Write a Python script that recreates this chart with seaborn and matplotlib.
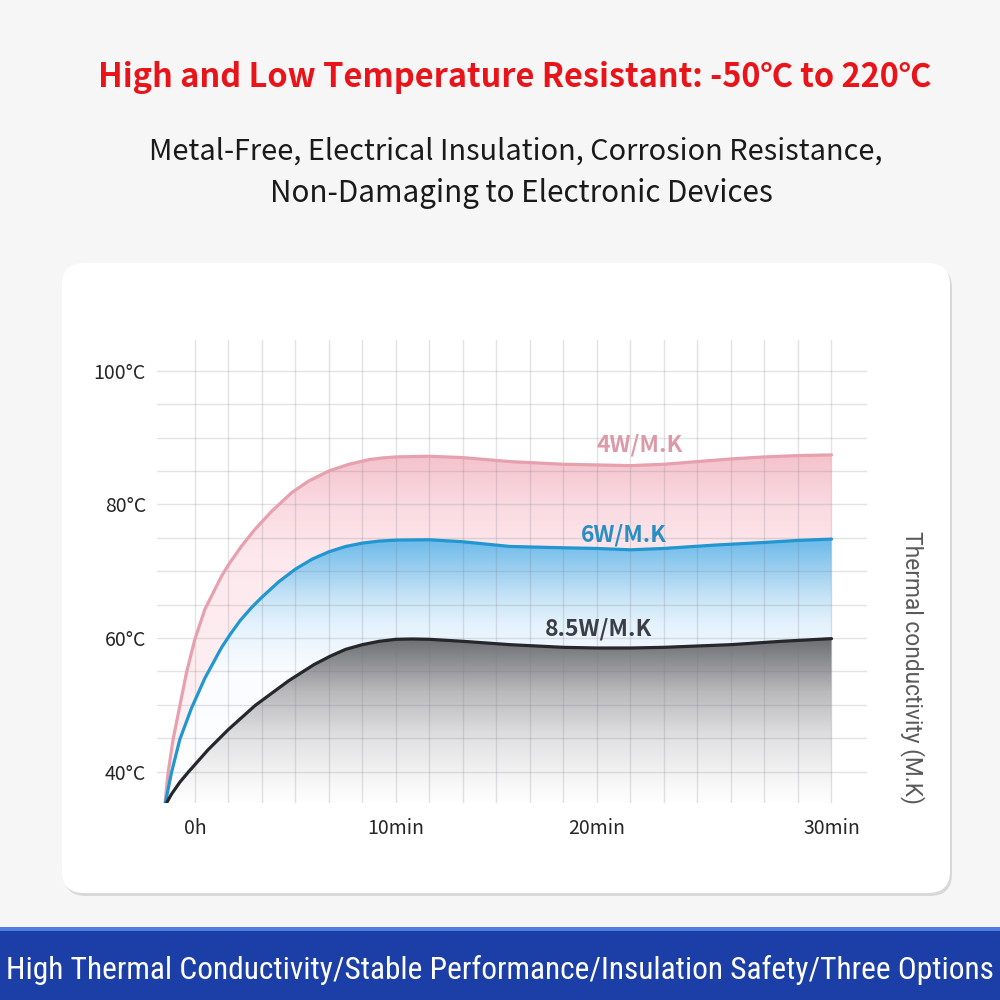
import numpy as np
import pandas as pd
import matplotlib
matplotlib.use("Agg")
import matplotlib.pyplot as plt
import seaborn as sns
from matplotlib.patches import FancyBboxPatch, Rectangle
from matplotlib.ticker import FixedLocator

# ---------------- data ----------------
# x is in grid steps (6 steps = 10 min on the printed axis)
tick_steps = [0, 6, 12, 19]
tick_labels = ["0h", "10min", "20min", "30min"]
ytick_vals = [40, 60, 80, 100]
ytick_labels = ["40°C", "60°C", "80°C", "100°C"]

x_4w = [-0.9, -0.8, -0.65, -0.45, -0.25, 0.0, 0.3, 0.8, 1.05, 1.4, 1.8, 2.3, 2.9, 3.4, 4.0,
        4.6, 5.2, 5.6, 6, 7, 8, 9.4, 11, 12, 13, 14, 15, 16, 17, 18, 19]
y_4w = [34.8, 39.8, 44.8, 49.8, 54.8, 59.8, 64.3, 69.3, 71.3, 73.8, 76.3, 79.0, 81.8, 83.5, 85.0,
        86.0, 86.7, 86.95, 87.1, 87.2, 87.0, 86.4, 86.0, 85.9, 85.8, 86.0, 86.4, 86.8, 87.1, 87.3, 87.4]

x_6w = [-0.9, -0.7, -0.45, -0.1, 0.3, 0.8, 1.05, 1.35, 1.7, 2.0, 2.5, 3.0, 3.5, 4.0, 4.5, 5.0,
        5.5, 6, 7, 8, 9.4, 11, 12, 13, 14, 15.5, 17, 18, 19]
y_6w = [34.8, 39.8, 44.8, 49.5, 54.0, 58.6, 60.5, 62.6, 64.6, 66.1, 68.4, 70.3, 71.8, 72.9, 73.7, 74.2,
        74.5, 74.65, 74.7, 74.4, 73.7, 73.5, 73.4, 73.2, 73.4, 73.9, 74.3, 74.6, 74.8]

x_85w = [-0.9, -0.7, -0.45, -0.2, 0.4, 1.0, 1.8, 2.8, 3.55, 4.05, 4.5, 5, 5.5, 6, 6.5, 7, 8, 9.4,
         11, 12, 13, 14, 16, 17.5, 19]
y_85w = [34.8, 36.6, 38.4, 39.9, 43.3, 46.3, 49.9, 53.6, 56.0, 57.3, 58.3, 59.0, 59.5, 59.8, 59.85, 59.8, 59.5, 59.0,
         58.6, 58.5, 58.5, 58.6, 59.0, 59.5, 59.9]

series_names = ["4W/M.K", "6W/M.K", "8.5W/M.K"]
label_pos_x = [13.27, 12.8, 12.05]
label_pos_y = [88.9, 75.4, 61.4]

title = "High and Low Temperature Resistant: -50℃ to 220℃"
subtitle1 = "Metal-Free, Electrical Insulation, Corrosion Resistance,"
subtitle2 = "Non-Damaging to Electronic Devices"
right_label = "Thermal conductivity (M.K)"
banner_text = "High Thermal Conductivity/Stable Performance/Insulation Safety/Three Options"

# ---------------- styling ----------------
sns.set_theme(style="white")
plt.rcParams["font.family"] = ["Noto Sans CJK SC", "DejaVu Sans"]

line_colors = ["#e6a0ae", "#2296cf", "#26272c"]
label_colors = ["#dc9aa9", "#2a8ec0", "#3b3e44"]
label_widths = [86, 86, 107]

# gradient stops: (temperature, rgb)
grad_stops = [
    [(35, (255, 244, 246)), (72, (253, 233, 237)), (80, (250, 218, 225)), (88, (244, 192, 202))],
    [(35, (255, 255, 255)), (55, (250, 252, 255)), (62, (228, 242, 252)), (66, (200, 228, 247)),
     (70, (158, 208, 240)), (75, (105, 185, 234))],
    [(35, (255, 255, 255)), (38, (248, 248, 249)), (45, (225, 225, 227)), (52, (185, 185, 188)),
     (60, (108, 109, 113))],
]

fig = plt.figure(figsize=(10, 10), dpi=100)
fig.patch.set_facecolor("#f6f6f6")

# card with shadow
shadow = FancyBboxPatch((0.064, 0.104), 0.888, 0.630, boxstyle="round,pad=0,rounding_size=0.022",
                        transform=fig.transFigure, facecolor="#cfcfcf", edgecolor="none", alpha=0.75,
                        zorder=-3)
card = FancyBboxPatch((0.062, 0.107), 0.888, 0.630, boxstyle="round,pad=0,rounding_size=0.022",
                      transform=fig.transFigure, facecolor="white", edgecolor="none", zorder=-2)
fig.patches.extend([shadow, card])

# banner
fig.patches.append(Rectangle((0, 0), 1, 0.072, transform=fig.transFigure,
                             facecolor="#1c3ea7", edgecolor="none", zorder=-2))
fig.patches.append(Rectangle((0, 0.069), 1, 0.004, transform=fig.transFigure,
                             facecolor="#4d7ede", edgecolor="none", zorder=-2))

ax = fig.add_axes([0.157, 0.197, 0.710, 0.463])
ax.set_zorder(1)
ax.patch.set_alpha(0)
xmin, xmax = -1.13, 20.06
ymin, ymax = 35.3, 104.6

xs = [x_4w, x_6w, x_85w]
ys = [y_4w, y_6w, y_85w]

for i, (x, y) in enumerate(zip(xs, ys)):
    poly = ax.fill_between(x, y, 35, facecolor="none", edgecolor="none")
    stops = grad_stops[i]
    temps = np.linspace(35, max(y) + 0.5, 300)
    t_s = [s[0] for s in stops]
    cols = np.stack([np.interp(temps, t_s, [s[1][c] for s in stops]) for c in range(3)], axis=-1) / 255.0
    img = cols[::-1][:, None, :]
    im = ax.imshow(img, extent=[min(x), max(x), 35, max(y) + 0.5], aspect="auto",
                   origin="upper", zorder=1 + i * 0.1, interpolation="bilinear")
    im.set_clip_path(poly.get_paths()[0], transform=ax.transData)

df = pd.concat([pd.DataFrame({"step": x, "temp": y, "series": n})
                for x, y, n in zip(xs, ys, series_names)])
sns.lineplot(data=df, x="step", y="temp", hue="series", palette=line_colors,
             hue_order=series_names, estimator=None, sort=False, linewidth=2.3,
             legend=False, ax=ax, zorder=3)
for l in ax.get_lines():
    l.set_solid_capstyle("round")
    l.set_solid_joinstyle("round")

ax.set_xlim(xmin, xmax)
ax.set_ylim(ymin, ymax)

# grid
ax.xaxis.set_minor_locator(FixedLocator(list(range(0, 20))))
ax.yaxis.set_minor_locator(FixedLocator(list(range(40, 101, 5))))
ax.set_xticks(tick_steps)
ax.set_xticklabels(tick_labels)
ax.set_yticks(ytick_vals)
ax.set_yticklabels(ytick_labels)
ax.grid(True, which="both", color=(0.45, 0.45, 0.5), alpha=0.2, linewidth=1.0, zorder=2.5)
ax.set_axisbelow(False)
for s in ax.spines.values():
    s.set_visible(False)
ax.tick_params(axis="both", which="both", length=0)
ax.tick_params(axis="y", pad=8, labelsize=14, labelcolor="#262626")
ax.tick_params(axis="x", pad=11, labelsize=14, labelcolor="#262626")
ax.set_xlabel("")
ax.set_ylabel("")

label_texts = []
for name, lx, ly, c in zip(series_names, label_pos_x, label_pos_y, label_colors):
    label_texts.append(ax.text(lx, ly, name, color=c, fontsize=14, fontweight="bold",
                               ha="center", va="center", zorder=4))

t5 = fig.text(0.912, 1 - 0.667, right_label, rotation=-90, ha="center", va="center",
              fontsize=14, color="#5a5a5a", family=["Roboto", "DejaVu Sans"])

t1 = fig.text(0.515, 1 - 0.077, title, ha="center", va="center", color="#e8141a",
              fontsize=22, fontweight="bold")
t2 = fig.text(0.516, 1 - 0.152, subtitle1, ha="center", va="center", color="#1a1a1a", fontsize=18)
t3 = fig.text(0.521, 1 - 0.193, subtitle2, ha="center", va="center", color="#1a1a1a", fontsize=18)
t4 = fig.text(0.006, 0.030, banner_text, ha="left", va="center", color="white", fontsize=18,
              family=["Liberation Sans Narrow", "Roboto Condensed", "Liberation Sans"])

renderer = fig.canvas.get_renderer()
def fit(t, target_px, vertical=False):
    bb = t.get_window_extent(renderer)
    w = bb.height if vertical else bb.width
    t.set_fontsize(t.get_fontsize() * target_px / w)

fit(t1, 834)
fit(t2, 732)
fit(t3, 502)
fit(t4, 988)
fit(t5, 275, vertical=True)
for t, w in zip(label_texts, label_widths):
    fit(t, w)

fig.savefig("out.png", dpi=100, facecolor=fig.get_facecolor())
